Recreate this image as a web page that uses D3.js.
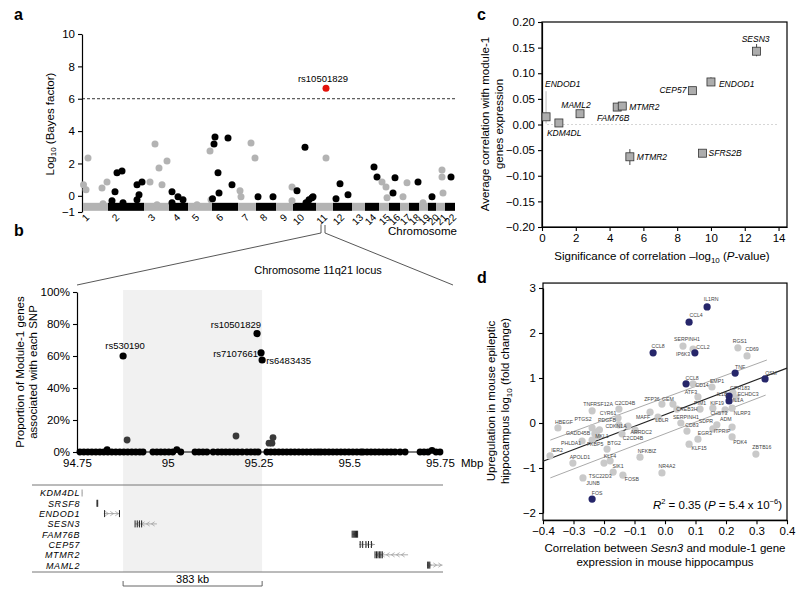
<!DOCTYPE html>
<html>
<head>
<meta charset="utf-8">
<script src="https://cdn.jsdelivr.net/npm/d3@7"></script>
<style>
body { margin: 0; background: #fff; }
svg { font-family: "Liberation Sans", Arial, sans-serif; }
</style>
</head>
<body>
<script>
// ---------- panel a: genome-wide scan ----------
// span of each chromosome's SNP band (relative units)
var chromSpan = [200, 288, 200, 152, 192, 208, 144, 160, 136, 184, 136, 152, 104, 112, 80, 88, 72, 80, 72, 64, 72, 80];
var aTicks = [-1, 0, 2, 4, 6, 8, 10];
var aChrom = [1,1,1,1,1,1, 2,2,2,2,2,2,2,2,2, 3,3,3,3,3,3, 4,4,4,4, 5,5,5, 6,6,6,6,6,6,6, 7,7,7,7, 8,8, 9,9,
              10,10,10,10,10,10, 11, 12,12,12, 14,14, 15,15,15, 16,16, 17,17, 18, 19, 20, 21,21,21, 22];
var aPos = [4,24,40,152,192,160, 56,32,72,112,120,232,272,248,232, 48,88,120,144,184,104, 24,24,72,112, 72,176,184,
            24,16,48,128,56,4,160, 16,24,104,136, 16,136, 128,128, 32,96,104,128,152,160, 80, 24,56,120, 72,96,
            24,56,64, 32,48, 56,24, 72, 32, 32, 48,48,56, 48];
var aLogBF = [0.68,0.37,2.34,0.49,0.86,-0.49, 0.25,-0.31,1.42,1.54,-0.43,0.68,0.86,0.06,-0.25, 0.86,3.2,1.72,0.68,2.15,-0.55,
              0.25,-0.43,-0.06,-0.25, -0.55,2.77,-0.25, 3.63,3.2,1.42,3.57,0.18,-0.18,0.68, 0.31,-0.06,3.26,2.34,
              -0.06,-0.06, 0.55,-0.31, 0.31,3.0,-0.43,-0.25,-0.12,-0.06, 2.34, -0.18,0.74,0.06, 1.78,1.17,
              0.86,0.55,-0.12, 0.18,1.11, 0.8,-0.06, 0.86, -0.43, -0.06, 1.6,1.17,0.18, 1.17];
var leadSnp = {name: "rs10501829", chrom: 11, pos: 80, logBF: 6.65};
var bfThreshold = 6;

// ---------- panel b: 11q21 locus ----------
var bXTicks = [94.75, 95, 95.25, 95.5, 95.75];
var bYTicks = [0, 20, 40, 60, 80, 100];
var bZeroPos = [94.758,94.769,94.780,94.791,94.802,94.813,94.824,94.835,94.846,94.857,94.868,94.879,94.890,94.901,94.912,94.923,94.932,
  94.959,94.970,94.981,94.992,95.003,95.014,95.036, 95.075,95.086,95.097,95.108,95.125,
  95.138,95.149,95.160,95.171,95.182,95.193,95.205, 95.218,95.229,95.240,95.249,
  95.273,95.284,95.295,95.306,95.317,95.328,95.339,95.350,95.361,95.372,95.383,95.394,95.405,95.414,
  95.422,95.433,95.444,95.455, 95.466,95.477,95.488,95.499,95.510,95.521,95.532,95.538,
  95.549,95.560,95.571,95.582,95.593,95.604,95.615,95.626,95.640, 95.654,95.695,95.706,95.717,95.739,95.750];
var bLowPos = [94.833, 95.025, 95.728, 94.888, 95.188, 95.279, 95.287, 95.290];
var bLowPct = [1.5, 1.5, 1.0, 7.5, 10, 5.5, 5.5, 9];
var snpNames = ["rs530190", "rs10501829", "rs7107661", "rs6483435"];
var snpPos = [94.877, 95.246, 95.257, 95.260];
var snpPct = [60, 74, 62, 57.5];
var locusStart = 94.877, locusEnd = 95.260;

var geneNames = ["KDM4DL", "SRSF8", "ENDOD1", "SESN3", "FAM76B", "CEP57", "MTMR2", "MAML2"];
var geneStart = [94.764, 94.805, 94.824, 94.910, 95.508, 95.527, 95.571, 95.714];
var geneEnd = [94.765, 94.808, 94.868, 94.970, 95.524, 95.571, 95.662, 95.757];
var geneStrand = ["+", "+", "+", "-", "-", "+", "-", "+"];
var geneExons = [[94.764], [94.805, 94.807], [94.826, 94.867], [94.910, 94.916, 94.922, 94.928],
  [95.508, 95.511, 95.514, 95.517, 95.520, 95.523], [95.530, 95.537, 95.546, 95.553, 95.561],
  [95.571, 95.575, 95.579, 95.583, 95.587, 95.591], [95.716, 95.719, 95.722]];

// ---------- panel c ----------
var cXTicks = [0, 2, 4, 6, 8, 10, 12, 14];
var cYTicks = [-0.2, -0.15, -0.1, -0.05, 0, 0.05, 0.1, 0.15, 0.2];
var cGenes = ["ENDOD1", "KDM4DL", "MAML2", "FAM76B", "MTMR2", "CEP57", "ENDOD1", "SESN3", "MTMR2", "SFRS2B"];
var cSig = [0.24, 1.0, 2.25, 4.45, 4.75, 8.9, 10.0, 12.7, 5.2, 9.5];
var cCorr = [0.015, 0.003, 0.021, 0.034, 0.036, 0.066, 0.083, 0.143, -0.063, -0.056];
var cErrLo = [0.002, 0.0, 0.018, 0.031, 0.033, 0.063, 0.076, 0.133, -0.079, -0.058];
var cErrHi = [0.065, 0.006, 0.024, 0.037, 0.039, 0.069, 0.092, 0.157, -0.048, -0.054];
// label placement for panel c: [dx, dy, anchor]
var cLabelNudge = [[-1, -33, "start"], [-12, 10, "start"], [-4, -9, "middle"], [-4, 11, "middle"], [7, 1, "start"],
  [-6, -1, "end"], [8, 2, "start"], [-1, -12, "middle"], [7, 0, "start"], [6, 0, "start"]];

// ---------- panel d ----------
var dXTicks = [-0.4, -0.3, -0.2, -0.1, 0, 0.1, 0.2, 0.3, 0.4];
var dYTicks = [-2, -1, 0, 1, 2, 3];
var dGenes = ["IL1RN","CCL4","CCL8","SERPINH1","IP6K3","CCL2","RGS1","CD69","TNF","OSM",
  "CCL8","CD14","EMP1","ATF3","GPR183","ECHDC3","IL1B","IL1A","PIM1","KIF19",
  "CHST3","NLRP3","ADM","SDPR","ITPRIP","EGR3","PDK4","ZBTB16","CD83","SERPINH1",
  "KLF15","CREB3H","GEM","ZFP36","MAFF","LDLR","TNFRSF12A","C2CD4B","CYR61","PDGFB",
  "PTGS2","HBEGF","CDKN1A","GADD45B","ARRDC2","C2CD4B","MKL1","FKBP5","BTG2","PHLDA1",
  "IER2","NFKBIZ","APOLD1","KLF4","SIK1","TSC22D3","NR4A2","FOSB","JUNB","FOS","",""];
var dCorr = [0.138,0.079,-0.039,0.059,0.092,0.098,0.239,0.269,0.230,0.328,
  0.069,0.092,0.154,0.108,0.223,0.233,0.210,0.210,0.115,0.197,
  0.157,0.220,0.170,0.157,0.220,0.108,0.220,0.298,0.072,0.052,
  0.079,0.039,0.026,-0.010,-0.049,-0.023,-0.239,-0.151,-0.154,-0.151,
  -0.239,-0.351,-0.121,-0.226,-0.098,-0.141,-0.223,-0.239,-0.190,-0.272,
  -0.377,-0.082,-0.302,-0.200,-0.180,-0.170,-0.010,-0.138,-0.269,-0.239,-0.230,-0.215];
var dFold = [2.58,2.24,1.56,1.71,1.64,1.56,1.67,1.49,1.11,0.98,
  0.87,0.87,0.80,0.58,0.67,0.56,0.60,0.49,0.31,0.29,
  0.33,0.33,-0.04,-0.13,-0.09,-0.36,-0.31,-0.69,-0.18,0.00,
  -0.47,0.31,0.42,0.42,0.24,0.13,0.27,0.31,0.11,-0.04,
  -0.11,-0.11,-0.07,-0.20,-0.16,-0.24,-0.29,-0.38,-0.58,-0.40,
  -0.73,-0.76,-0.89,-0.89,-0.84,-1.09,-1.11,-1.16,-1.22,-1.69,-0.24,-0.15];
var dInflam = [1,1,1,0,0,1,0,0,1,1, 1,0,0,0,0,0,1,1,0,0, 0,0,0,0,0,0,0,0,0,0,
  0,0,0,0,0,0,0,0,0,0, 0,0,0,0,0,0,0,0,0,0, 0,0,0,0,0,0,0,0,0,1,0,0];
var dLabelNudge = [[4,-8],[7,-7],[5,-7],[4,-7],[-10,5],[8,-6],[2,-7],[5,-7],[5,-6],[6,-6],
  [6,-6],[9,1],[5,-6],[-7,-5],[7,-5],[12,-4],[-7,-2],[9,-1],[0,-6],[-8,-7],
  [6,5],[10,5],[9,-6],[-7,-8],[-10,4],[7,-6],[8,5],[6,-7],[5,-6],[5,-6],
  [10,4],[10,0],[-5,-5],[-10,-5],[-7,5],[4,3],[6,-7],[6,-6],[-10,-5],[-12,-5],
  [-9,-9],[6,-6],[-12,0],[-18,1],[6,2],[11,4],[5,0],[3,4],[7,-6],[-11,2],
  [7,-6],[7,-6],[7,-6],[6,-7],[8,5],[-13,4],[5,-7],[9,4],[10,5],[5,-6],[0,0],[0,0]];
var fitX = [-0.4, 0.4], fitY = [-0.85, 1.22];
var bandUpX = [-0.376, 0.334], bandUpY = [-0.38, 1.40];
var bandLoX = [-0.376, 0.330], bandLoY = [-1.22, 0.62];

var FONT = "Liberation Sans, Arial, sans-serif";
var svg = d3.select("body").append("svg").attr("width", 800).attr("height", 592);

function styleAxis(g, size) {
  g.attr("font-family", FONT);
  g.select(".domain").attr("stroke", "#000").attr("stroke-width", 1.2);
  g.selectAll(".tick line").attr("stroke", "#000").attr("stroke-width", 1.1);
  g.selectAll(".tick text").attr("font-size", size || 11.5).attr("fill", "#000");
}

function letter(t, x, y) {
  svg.append("text").attr("x", x).attr("y", y).attr("font-size", 16).attr("font-weight", "bold").text(t);
}
letter("a", 14, 20);
letter("b", 14, 236);
letter("c", 477, 20);
letter("d", 477, 283);

// ================= panel a =================
var chromStart = [];
var acc = 0;
chromSpan.forEach(function(s) { chromStart.push(acc); acc += s; });
var xA = d3.scaleLinear().domain([0, acc]).range([83, 455]);
var yA = d3.scaleLinear().domain([-1, 10]).range([212, 34]);
var gA = svg.append("g");

gA.append("g").attr("transform", "translate(82,0)")
  .call(d3.axisLeft(yA).tickValues(aTicks).tickSize(4).tickSizeOuter(0).tickFormat(d3.format("d")))
  .call(styleAxis);

gA.append("line").attr("x1", 82).attr("x2", 455).attr("y1", yA(bfThreshold)).attr("y2", yA(bfThreshold))
  .attr("stroke", "#000").attr("stroke-width", 0.8).attr("stroke-dasharray", "3,2");

gA.selectAll("rect.band").data(chromSpan).enter().append("rect").attr("class", "band")
  .attr("x", function(d, i) { return xA(chromStart[i]); })
  .attr("width", function(d) { return xA(d) - xA(0); })
  .attr("y", yA(-0.68) - 4).attr("height", 8)
  .attr("fill", function(d, i) { return i % 2 === 0 ? "#b3b3b3" : "#000"; });

var aPts = aChrom.map(function(c, i) { return {c: c, x: chromStart[c - 1] + aPos[i], y: aLogBF[i]}; });
gA.selectAll("circle.snp").data(aPts).enter().append("circle").attr("class", "snp")
  .attr("cx", function(d) { return xA(d.x); })
  .attr("cy", function(d) { return yA(d.y); })
  .attr("r", 3.5)
  .attr("fill", function(d) { return d.c % 2 === 1 ? "#b3b3b3" : "#000"; });

var leadX = xA(chromStart[leadSnp.chrom - 1] + leadSnp.pos);
gA.append("circle").attr("cx", leadX).attr("cy", yA(leadSnp.logBF)).attr("r", 3.5).attr("fill", "#e3120b");
gA.append("text").attr("x", leadX - 3).attr("y", yA(leadSnp.logBF) - 6).attr("text-anchor", "middle")
  .attr("font-size", 9.5).text(leadSnp.name);

gA.selectAll("text.chr").data(chromSpan).enter().append("text").attr("class", "chr")
  .attr("transform", function(d, i) { return "translate(" + (xA(chromStart[i]) + (i === 0 ? 2 : 7)) + ",213) rotate(-45)"; })
  .attr("text-anchor", "end").attr("dy", "0.7em").attr("font-size", 10)
  .text(function(d, i) { return i + 1; });

gA.append("text").attr("x", 457).attr("y", 235).attr("text-anchor", "end").attr("font-size", 11.5).text("Chromosome");

var aLab = gA.append("text").attr("transform", "translate(50,124) rotate(-90)").attr("text-anchor", "middle")
  .attr("dominant-baseline", "central").attr("font-size", 11.5);
aLab.append("tspan").text("Log");
aLab.append("tspan").attr("font-size", 8).attr("dy", 3).text("10");
aLab.append("tspan").attr("dy", -3).text(" (Bayes factor)");

// zoom connector into panel b
svg.append("path").attr("d", "M" + (leadX - 5) + ",225V233L77,285").attr("fill", "none").attr("stroke", "#444").attr("stroke-width", 0.9);
svg.append("path").attr("d", "M" + (leadX - 1) + ",225V233L453,285").attr("fill", "none").attr("stroke", "#444").attr("stroke-width", 0.9);
svg.append("text").attr("x", 318).attr("y", 274).attr("text-anchor", "middle").attr("font-size", 11).text("Chromosome 11q21 locus");

// ================= panel b =================
var xB = d3.scaleLinear().domain([94.75, 95.75]).range([77, 440]);
var yB = d3.scaleLinear().domain([0, 100]).range([452, 292]);
var gB = svg.append("g");

gB.append("rect").attr("x", xB(locusStart)).attr("width", xB(locusEnd) - xB(locusStart))
  .attr("y", 290).attr("height", 282).attr("fill", "#f1f1f1");

gB.append("g").attr("transform", "translate(77,0)")
  .call(d3.axisLeft(yB).tickValues(bYTicks).tickSize(4).tickSizeOuter(0).tickFormat(function(d) { return d + "%"; }))
  .call(styleAxis);
var bxAxis = gB.append("g").attr("transform", "translate(0,452)")
  .call(d3.axisBottom(xB).tickValues(bXTicks).tickSize(0).tickPadding(7).tickFormat(function(d) { return String(d); }))
  .call(styleAxis);
bxAxis.select(".domain").attr("d", "M77,0H443");
gB.append("text").attr("x", xB(95.75) + 21).attr("y", 467).attr("font-size", 11.5).text("Mbp");

gB.selectAll("circle.z").data(bZeroPos).enter().append("circle").attr("class", "z")
  .attr("cx", function(d) { return xB(d); }).attr("cy", yB(0)).attr("r", 3.4).attr("fill", "#000");
gB.selectAll("circle.low").data(bLowPos).enter().append("circle").attr("class", "low")
  .attr("cx", function(d) { return xB(d); }).attr("cy", function(d, i) { return yB(bLowPct[i]); })
  .attr("r", 3.4).attr("fill", function(d, i) { return bLowPct[i] > 3 ? "#3a3a3a" : "#000"; });
gB.selectAll("circle.top").data(snpPos).enter().append("circle").attr("class", "top")
  .attr("cx", function(d) { return xB(d); }).attr("cy", function(d, i) { return yB(snpPct[i]); })
  .attr("r", 3.6).attr("fill", "#000");
var snpNudge = [[2, -10, "middle"], [4, -9, "end"], [-3, 1, "end"], [4, 1, "start"]];
gB.selectAll("text.snp").data(snpNames).enter().append("text").attr("class", "snp")
  .attr("x", function(d, i) { return xB(snpPos[i]) + snpNudge[i][0]; })
  .attr("y", function(d, i) { return yB(snpPct[i]) + snpNudge[i][1]; })
  .attr("dy", "0.35em").attr("text-anchor", function(d, i) { return snpNudge[i][2]; })
  .attr("font-size", 9.5).text(function(d) { return d; });

var bLab = gB.append("text").attr("transform", "translate(26,372) rotate(-90)").attr("text-anchor", "middle").attr("font-size", 11.5);
bLab.append("tspan").attr("x", 0).attr("dy", "-0.15em").text("Proportion of Module-1 genes");
bLab.append("tspan").attr("x", 0).attr("dy", "1.1em").text("associated with each SNP");

// gene track
gB.append("line").attr("x1", 32).attr("x2", 443).attr("y1", 485).attr("y2", 485).attr("stroke", "#777");
gB.append("line").attr("x1", 32).attr("x2", 443).attr("y1", 572).attr("y2", 572).attr("stroke", "#777");
var rowY = function(i) { return 493 + i * 10.3; };
gB.selectAll("text.gene").data(geneNames).enter().append("text").attr("class", "gene")
  .attr("x", 80).attr("y", function(d, i) { return rowY(i) + 3.4; })
  .attr("text-anchor", "end").attr("font-size", 9).attr("letter-spacing", 0.6)
  .attr("font-style", "italic").text(function(d) { return d; });
geneNames.forEach(function(g, i) {
  var y = rowY(i), x0 = xB(geneStart[i]), x1 = xB(geneEnd[i]);
  gB.append("line").attr("x1", x0).attr("x2", x1).attr("y1", y).attr("y2", y).attr("stroke", "#999").attr("stroke-width", 0.8);
  var dir = geneStrand[i] === "+" ? 1 : -1;
  d3.range(x0 + 3, x1 - 1, 5).forEach(function(cx) {
    gB.append("path").attr("d", "M" + (cx - 1.6 * dir) + "," + (y - 2.2) + "L" + (cx + 1.6 * dir) + "," + y + "L" + (cx - 1.6 * dir) + "," + (y + 2.2))
      .attr("fill", "none").attr("stroke", "#999").attr("stroke-width", 0.7);
  });
  gB.selectAll(null).data(geneExons[i]).enter().append("rect")
    .attr("x", function(d) { return xB(d) - 0.5; }).attr("width", 1)
    .attr("y", y - 3.5).attr("height", 7).attr("fill", i === 0 ? "#999" : "#222");
});
gB.append("path").attr("d", "M" + xB(locusStart) + ",581V586H" + xB(locusEnd) + "V581")
  .attr("fill", "none").attr("stroke", "#555").attr("stroke-width", 0.9);
gB.append("text").attr("x", (xB(locusStart) + xB(locusEnd)) / 2).attr("y", 583).attr("text-anchor", "middle")
  .attr("font-size", 11).text(Math.round((locusEnd - locusStart) * 1000) + " kb");

// ================= panel c =================
var xC = d3.scaleLinear().domain([0, 14.5]).range([542, 787]);
var yC = d3.scaleLinear().domain([-0.2, 0.2]).range([227, 22]);
var gC = svg.append("g");
gC.append("line").attr("x1", 547).attr("x2", 777).attr("y1", yC(0)).attr("y2", yC(0))
  .attr("stroke", "#ccc").attr("stroke-width", 0.8).attr("stroke-dasharray", "2,2");
gC.append("rect").attr("x", 542).attr("y", 22).attr("width", 245).attr("height", 205)
  .attr("fill", "none").attr("stroke", "#000").attr("stroke-width", 1.2);
gC.append("g").attr("transform", "translate(542,0)")
  .call(d3.axisLeft(yC).tickValues(cYTicks).tickSize(4).tickSizeOuter(0).tickFormat(d3.format(".2f"))).call(styleAxis);
gC.append("g").attr("transform", "translate(0,227)")
  .call(d3.axisBottom(xC).tickValues(cXTicks).tickSize(4).tickSizeOuter(0).tickPadding(3)).call(styleAxis);

gC.selectAll("line.err").data(cSig).enter().append("line").attr("class", "err")
  .attr("x1", function(d) { return xC(d); }).attr("x2", function(d) { return xC(d); })
  .attr("y1", function(d, i) { return yC(cErrLo[i]); }).attr("y2", function(d, i) { return yC(cErrHi[i]); })
  .attr("stroke", function(d, i) { return i === 0 ? "#bbb" : "#444"; }).attr("stroke-width", 1);
gC.selectAll("rect.pt").data(cSig).enter().append("rect").attr("class", "pt")
  .attr("x", function(d) { return xC(d) - 4; }).attr("y", function(d, i) { return yC(cCorr[i]) - 4; })
  .attr("width", 8).attr("height", 8).attr("fill", "#adadad").attr("stroke", "#333").attr("stroke-width", 0.8);
gC.selectAll("text.lab").data(cGenes).enter().append("text").attr("class", "lab")
  .attr("x", function(d, i) { return xC(cSig[i]) + cLabelNudge[i][0]; })
  .attr("y", function(d, i) { return yC(cCorr[i]) + cLabelNudge[i][1]; })
  .attr("dy", "0.35em").attr("text-anchor", function(d, i) { return cLabelNudge[i][2]; })
  .attr("font-size", 8.5).attr("font-style", "italic").text(function(d) { return d; });

var cX = gC.append("text").attr("x", 662).attr("y", 260).attr("text-anchor", "middle").attr("font-size", 11.5);
cX.append("tspan").text("Significance of correlation \u2013log");
cX.append("tspan").attr("font-size", 8).attr("dy", 3).text("10");
cX.append("tspan").attr("dy", -3).text(" (");
cX.append("tspan").attr("font-style", "italic").text("P");
cX.append("tspan").text("-value)");
var cY = gC.append("text").attr("transform", "translate(491,124) rotate(-90)").attr("text-anchor", "middle").attr("font-size", 11.5);
cY.append("tspan").attr("x", 0).attr("dy", "-0.2em").text("Average correlation with module-1");
cY.append("tspan").attr("x", 0).attr("dy", "1.2em").text("genes expression");

// ================= panel d =================
var xD = d3.scaleLinear().domain([-0.4, 0.4]).range([543, 787]);
var yD = d3.scaleLinear().domain([-2, 3]).range([513, 288]);
var gD = svg.append("g");
gD.append("rect").attr("x", xD(-0.4)).attr("y", yD(3.11)).attr("width", xD(0.4) - xD(-0.4)).attr("height", yD(-2.16) - yD(3.11))
  .attr("fill", "none").attr("stroke", "#000").attr("stroke-width", 1.2);
gD.append("g").attr("transform", "translate(" + xD(-0.4) + ",0)")
  .call(d3.axisLeft(yD).tickValues(dYTicks).tickSize(4).tickSizeOuter(0).tickFormat(d3.format("d"))).call(styleAxis);
gD.append("g").attr("transform", "translate(0," + yD(-2.16) + ")")
  .call(d3.axisBottom(xD).tickValues(dXTicks).tickSize(4).tickSizeOuter(0).tickPadding(3).tickFormat(d3.format(".1f"))).call(styleAxis);

var lineD = d3.line().x(function(d) { return xD(d[0]); }).y(function(d) { return yD(d[1]); });
gD.append("path").attr("d", lineD(d3.zip(bandUpX, bandUpY))).attr("stroke", "#aaa").attr("stroke-width", 1).attr("fill", "none");
gD.append("path").attr("d", lineD(d3.zip(bandLoX, bandLoY))).attr("stroke", "#aaa").attr("stroke-width", 1).attr("fill", "none");
gD.append("path").attr("d", lineD(d3.zip(fitX, fitY))).attr("stroke", "#222").attr("stroke-width", 1.2).attr("fill", "none");

var dIdx = d3.range(dGenes.length);
gD.selectAll("circle.g").data(dIdx.filter(function(i) { return !dInflam[i]; })).enter().append("circle").attr("class", "g")
  .attr("cx", function(i) { return xD(dCorr[i]); }).attr("cy", function(i) { return yD(dFold[i]); })
  .attr("r", 3.6).attr("fill", "#c9c9c9");
gD.selectAll("circle.n").data(dIdx.filter(function(i) { return dInflam[i]; })).enter().append("circle").attr("class", "n")
  .attr("cx", function(i) { return xD(dCorr[i]); }).attr("cy", function(i) { return yD(dFold[i]); })
  .attr("r", 3.6).attr("fill", "#26266a");
gD.selectAll("text.gl").data(dIdx.filter(function(i) { return dGenes[i] !== ""; })).enter().append("text").attr("class", "gl")
  .attr("x", function(i) { return xD(dCorr[i]) + dLabelNudge[i][0]; })
  .attr("y", function(i) { return yD(dFold[i]) + dLabelNudge[i][1]; })
  .attr("dy", "0.35em").attr("text-anchor", "middle").attr("font-size", 5.2).attr("fill", "#444")
  .text(function(i) { return dGenes[i]; });

var r2 = gD.append("text").attr("x", 782).attr("y", 509).attr("text-anchor", "end").attr("font-size", 11.5);
r2.append("tspan").attr("font-style", "italic").text("R");
r2.append("tspan").attr("font-size", 7.5).attr("dy", -5).text("2");
r2.append("tspan").attr("dy", 5).text(" = 0.35 (");
r2.append("tspan").attr("font-style", "italic").text("P");
r2.append("tspan").text(" = 5.4 x 10");
r2.append("tspan").attr("font-size", 7.5).attr("dy", -5).text("\u22126");
r2.append("tspan").attr("dy", 5).text(")");

var dX = gD.append("text").attr("x", 665).attr("y", 552).attr("text-anchor", "middle").attr("font-size", 11.5);
dX.append("tspan").text("Correlation between ");
dX.append("tspan").attr("font-style", "italic").text("Sesn3");
dX.append("tspan").text(" and module-1 gene");
gD.append("text").attr("x", 665).attr("y", 566).attr("text-anchor", "middle").attr("font-size", 11.5).text("expression in mouse hippocampus");
var dY = gD.append("text").attr("transform", "translate(497,401) rotate(-90)").attr("text-anchor", "middle").attr("font-size", 11.5);
dY.append("tspan").attr("x", 0).attr("dy", "-0.2em").text("Upregulation in mouse epileptic");
var dY2 = gD.append("text").attr("transform", "translate(497,401) rotate(-90)").attr("text-anchor", "middle").attr("font-size", 11.5)
  .attr("dy", "1em");
dY2.append("tspan").text("hippocampus log");
dY2.append("tspan").attr("font-size", 8).attr("dy", 3).text("10");
dY2.append("tspan").attr("dy", -3).text(" (fold change)");
</script>
</body>
</html>
